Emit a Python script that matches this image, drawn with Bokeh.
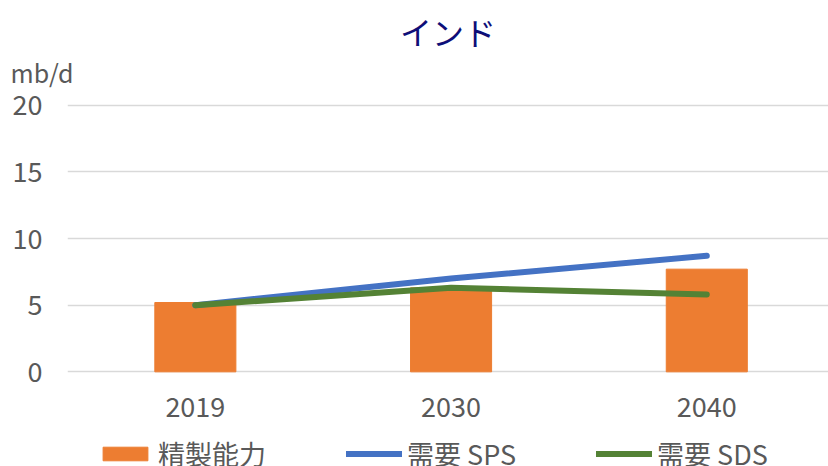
from bokeh.plotting import figure
from bokeh.layouts import column
from bokeh.models import Range1d, FixedTicker, Title, Legend, LegendItem, ColumnDataSource
from bokeh.embed import file_html
from bokeh.resources import INLINE

years = ["2019", "2030", "2040"]
capacity = [5.2, 6.3, 7.7]
demand_sps = [5.0, 7.0, 8.7]
demand_sds = [5.0, 6.3, 5.8]
y_ticks = [0, 5, 10, 15, 20]
title_text = "インド"
unit_text = "mb/d"
series_names = ["精製能力", "需要 SPS", "需要 SDS"]

C_BAR, C_SPS, C_SDS = "#ED7D31", "#4472C4", "#548235"
FONT = "'Noto Sans CJK JP', 'Noto Sans', sans-serif"
GREY = "#595959"

xs = list(range(len(years)))
src = ColumnDataSource(dict(x=xs, cap=capacity, sps=demand_sps, sds=demand_sds))


def draw_series(fig, visible=True):
    b = fig.vbar(x="x", top="cap", bottom=0, width=0.317, fill_color=C_BAR, line_color=C_BAR,
                 source=src, visible=visible)
    s = fig.line("x", "sps", line_width=6, line_color=C_SPS, line_cap="round",
                 line_join="round", source=src, visible=visible)
    d = fig.line("x", "sds", line_width=6, line_color=C_SDS, line_cap="round",
                 line_join="round", source=src, visible=visible)
    return b, s, d


# ---------------- main chart ----------------
p = figure(width=828, height=424, output_backend="svg", toolbar_location=None, title=None,
           x_range=Range1d(-0.5, 2.476), y_range=Range1d(-0.5, 20.5),
           min_border_left=67, min_border_right=0, min_border_top=98, min_border_bottom=46)
p.outline_line_color = None
p.background_fill_color = "white"
p.border_fill_color = "white"

draw_series(p)

for ax in (p.xaxis[0], p.yaxis[0]):
    ax.axis_line_color = None
    ax.major_tick_line_color = None
    ax.minor_tick_line_color = None
    ax.major_label_text_font = FONT
    ax.major_label_text_font_size = "27px"
    ax.major_label_text_color = GREY

p.xaxis.ticker = FixedTicker(ticks=xs)
p.xaxis.major_label_overrides = {i: y for i, y in zip(xs, years)}
p.xaxis.major_label_standoff = 12
p.yaxis.ticker = FixedTicker(ticks=y_ticks)
p.yaxis.major_label_standoff = 19

p.xgrid.visible = False
p.ygrid.ticker = FixedTicker(ticks=y_ticks)
p.ygrid.grid_line_color = "#D9D9D9"
p.ygrid.grid_line_width = 1.5

# unit label (nearest the frame), then the chart title above it
p.add_layout(Title(text=unit_text, align="left", offset=-57, standoff=18,
                   text_font=FONT, text_font_size="25px", text_font_style="normal",
                   text_color=GREY), "above")
p.add_layout(Title(text=title_text, align="center", standoff=-22,
                   text_font=FONT, text_font_size="32px", text_font_style="normal",
                   text_color="#0E0E78"), "above")

# ---------------- legend strip ----------------
q = figure(width=828, height=42, output_backend="svg", toolbar_location=None, title=None,
           x_range=Range1d(10, 11), y_range=Range1d(10, 11), x_axis_type=None, y_axis_type=None,
           min_border=0, min_border_left=0, min_border_right=0, min_border_top=0,
           min_border_bottom=0)
q.outline_line_color = None
q.xgrid.visible = False
q.ygrid.visible = False
q.background_fill_color = "white"
q.border_fill_color = "white"

k_bar, k_sps, k_sds = draw_series(q, visible=False)

legend = Legend(items=[LegendItem(label=series_names[0], renderers=[k_bar]),
                       LegendItem(label=series_names[1], renderers=[k_sps]),
                       LegendItem(label=series_names[2], renderers=[k_sds])],
                location=(30, -7), orientation="horizontal", padding=0, margin=0,
                border_line_color=None, background_fill_alpha=0, spacing=80,
                glyph_width=56, glyph_height=17, label_standoff=5,
                label_text_font=FONT, label_text_font_size="27px", label_text_color=GREY)
q.add_layout(legend)

layout = column(p, q, spacing=0)
open("out.html", "w").write(file_html(layout, INLINE))
